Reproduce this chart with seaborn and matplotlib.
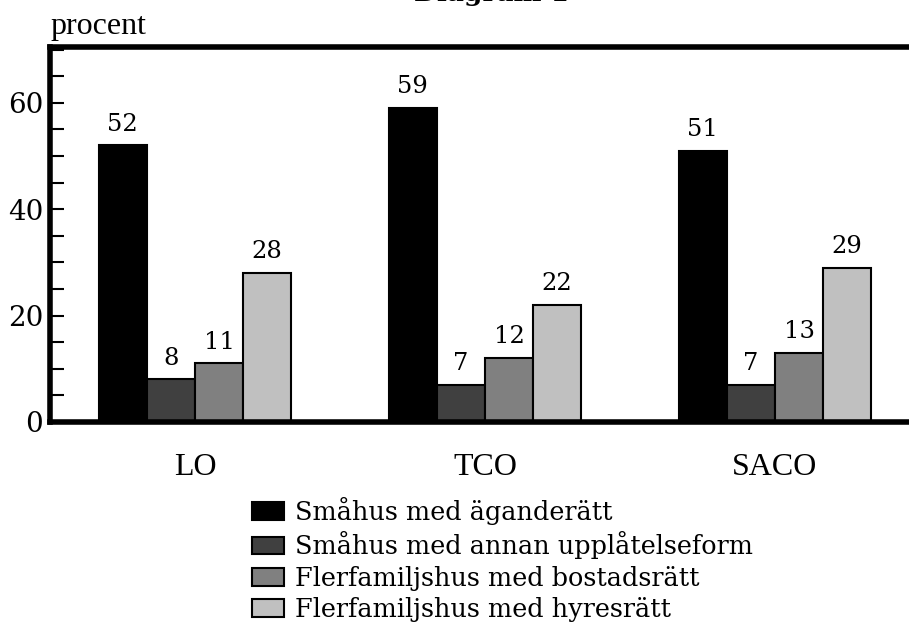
import matplotlib
matplotlib.use("Agg")
import matplotlib.pyplot as plt
import seaborn as sns
import pandas as pd
from matplotlib.ticker import MultipleLocator

groups = ["LO", "TCO", "SACO"]
series = ["Småhus med äganderätt",
          "Småhus med annan upplåtelseform",
          "Flerfamiljshus med bostadsrätt",
          "Flerfamiljshus med hyresrätt"]
small_own = [52, 59, 51]
small_other = [8, 7, 7]
multi_coop = [11, 12, 13]
multi_rent = [28, 22, 29]
colors = ["#000000", "#404040", "#808080", "#c0c0c0"]

rows = []
for s, vals in zip(series, [small_own, small_other, multi_coop, multi_rent]):
    for g, v in zip(groups, vals):
        rows.append({"grupp": g, "typ": s, "procent": v})
df = pd.DataFrame(rows)

sns.set_style("white")
plt.rcParams["text.color"] = "black"
plt.rcParams["xtick.color"] = "black"
plt.rcParams["ytick.color"] = "black"
plt.rcParams["axes.labelcolor"] = "black"

fig = plt.figure(figsize=(9.09, 6.31), dpi=100)
ax = fig.add_axes([50/909, 209/631, 870/909, 375/631])

sns.barplot(data=df, x="grupp", y="procent", hue="typ", order=groups,
            hue_order=series, palette=dict(zip(series, colors)),
            width=0.664, edgecolor="black", linewidth=1.5, ax=ax,
            legend=True, saturation=1)

for cont in ax.containers:
    ax.bar_label(cont, fmt="%d", padding=7, fontsize=17.5, family="DejaVu Serif",
                 color="black")

ax.set_xlim(-0.5, 2.5)
ax.set_ylim(0, 70.5)
ax.yaxis.set_major_locator(MultipleLocator(20))
ax.yaxis.set_minor_locator(MultipleLocator(5))
ax.tick_params(axis="y", which="both", direction="in", length=10, width=1.5,
               left=True, pad=5, labelsize=20, colors="black")
ax.tick_params(axis="x", length=0, pad=22, labelsize=23, colors="black")
for lab in ax.get_yticklabels():
    lab.set_family("DejaVu Serif")
for lab in ax.get_xticklabels():
    lab.set_family("Liberation Serif")
ax.set_xlabel("")
ax.set_ylabel("")
for sp in ax.spines.values():
    sp.set_linewidth(4)
    sp.set_color("black")
ax.spines["right"].set_visible(False)

handles, labels = ax.get_legend_handles_labels()
leg = ax.legend(handles, labels, loc="upper left",
                bbox_to_anchor=(252/909, 1 - 497/631), bbox_transform=fig.transFigure,
                frameon=False, prop={"family": "DejaVu Serif", "size": 18.4},
                handlelength=1.25, handleheight=0.7, handletextpad=0.45,
                labelspacing=0.25, borderpad=0, borderaxespad=0)
for t in leg.get_texts():
    t.set_color("black")

fig.text(50/909, 1 - 34/631, "procent", family="Liberation Serif", fontsize=23,
         va="baseline", ha="left", color="black")
fig.text(491/909, 1 - 1.5/631, "Diagram 1", family="DejaVu Serif", fontsize=19,
         weight="bold", va="baseline", ha="center", color="black")

fig.savefig("out.png", dpi=100)
